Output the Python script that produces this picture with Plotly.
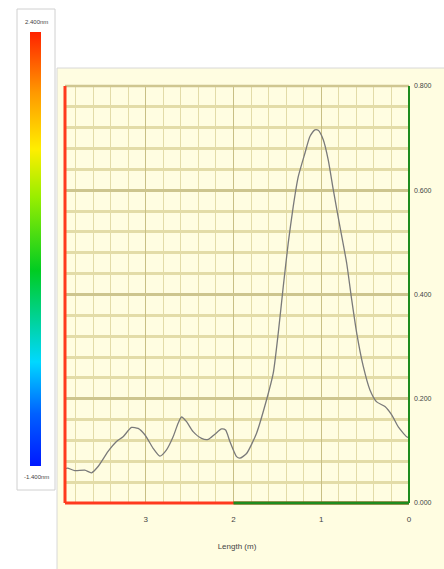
import plotly.graph_objects as go

# ---- data ----
length_m = [3.92, 3.892, 3.808, 3.694, 3.618, 3.543, 3.429, 3.333, 3.258, 3.162,
            3.087, 3.010, 2.916, 2.839, 2.763, 2.688, 2.631, 2.592, 2.535, 2.460,
            2.364, 2.289, 2.212, 2.136, 2.090, 2.041, 1.965, 1.927, 1.851, 1.737,
            1.623, 1.547, 1.490, 1.433, 1.376, 1.319, 1.262, 1.186, 1.129, 1.072,
            1.034, 0.977, 0.920, 0.863, 0.787, 0.710, 0.653, 0.596, 0.521, 0.445,
            0.368, 0.274, 0.197, 0.122, 0.026, 0.0]
values = [0.066, 0.067, 0.062, 0.063, 0.058, 0.070, 0.099, 0.118, 0.127, 0.145,
          0.143, 0.131, 0.105, 0.090, 0.102, 0.127, 0.153, 0.165, 0.156, 0.137,
          0.124, 0.122, 0.132, 0.142, 0.140, 0.118, 0.089, 0.086, 0.095, 0.134,
          0.198, 0.249, 0.326, 0.415, 0.499, 0.569, 0.626, 0.671, 0.703, 0.716,
          0.715, 0.697, 0.658, 0.601, 0.530, 0.460, 0.390, 0.326, 0.262, 0.217,
          0.194, 0.185, 0.169, 0.146, 0.127, 0.125]
x_ticks = [0, 1, 2, 3]
x_ticklabels = ["0", "1", "2", "3"]
y_ticks = [0.0, 0.2, 0.4, 0.6, 0.8]
y_ticklabels = ["0.000", "0.200", "0.400", "0.600", "0.800"]
x_split = 2
colorbar_labels = ["2.400nm", "-1.400nm"]

W, H = 444, 569
L, R, T, B = 65, 35, 86, 66
PW, PH = W - L - R, H - T - B


def px(x):
    return (x - L) / PW


def py(y):
    return (H - B - y) / PH


BG = "#FFFDE1"
fig = go.Figure()

fig.add_trace(go.Scatter(
    x=length_m, y=values, mode="lines",
    line=dict(color="#7a7a7a", width=1.3, shape="spline", smoothing=0.6),
    showlegend=False, hoverinfo="skip",
))

# colorbar (dummy marker trace)
fig.add_trace(go.Scatter(
    x=[None], y=[None], mode="markers", showlegend=False,
    marker=dict(
        color=[0], cmin=0, cmax=1, showscale=True,
        colorscale=[[0, "#0018FF"], [0.12, "#0060FF"], [0.24, "#00D8FF"],
                    [0.45, "#00CC22"], [0.62, "#99EE00"], [0.73, "#FFEE00"],
                    [0.86, "#FF9900"], [1.0, "#FF2200"]],
        colorbar=dict(
            x=px(30), xanchor="left", xref="paper",
            y=py((32 + 466) / 2), yanchor="middle", yref="paper",
            thickness=11, thicknessmode="pixels",
            len=434, lenmode="pixels",
            outlinewidth=0, xpad=0, ypad=0,
            showticklabels=False, ticks="",
        ),
    ),
))

shapes = [
    # yellow panel
    dict(type="rect", xref="paper", yref="paper", x0=px(57), x1=px(446),
         y0=py(571), y1=py(68), fillcolor=BG, line=dict(color="#d8d8d8", width=1),
         layer="below"),
    # colorbar panel
    dict(type="rect", xref="paper", yref="paper", x0=px(17), x1=px(55),
         y0=py(490), y1=py(9), fillcolor="white", line=dict(color="#d0d0d0", width=1),
         layer="below"),
    # top grid edge
    dict(type="line", xref="paper", yref="paper", x0=0, x1=1, y0=1, y1=1,
         line=dict(color="#CFC690", width=2.5)),
    # left border (red)
    dict(type="line", xref="paper", yref="paper", x0=0, x1=0, y0=0, y1=1,
         line=dict(color="#FF3A1E", width=3)),
    # bottom border red part
    dict(type="line", xref="paper", yref="paper", x0=0, x1=1, y0=0, y1=0,
         line=dict(color="#FF3A1E", width=3)),
    # bottom border green part
    dict(type="line", xref="x", yref="paper", x0=x_split, x1=0, y0=0, y1=0,
         line=dict(color="#1E8C1E", width=3)),
    # right border (green)
    dict(type="line", xref="paper", yref="paper", x0=1, x1=1, y0=0, y1=1,
         line=dict(color="#1E8C1E", width=2)),
]

annotations = [
    dict(text=colorbar_labels[0], xref="paper", yref="paper", x=px(36), y=py(22),
         xanchor="center", yanchor="middle",
         showarrow=False, font=dict(size=6, color="#444444", family="Arial")),
    dict(text=colorbar_labels[1], xref="paper", yref="paper", x=px(36), y=py(477),
         xanchor="center", yanchor="middle",
         showarrow=False, font=dict(size=6, color="#444444", family="Arial")),
]

fig.update_layout(
    width=W, height=H,
    margin=dict(l=L, r=R, t=T, b=B),
    paper_bgcolor="white", plot_bgcolor="rgba(0,0,0,0)",
    shapes=shapes, annotations=annotations,
    font=dict(family="Arial", size=8, color="#333333"),
    xaxis=dict(
        range=[3.92, 0], tickvals=x_ticks, ticktext=x_ticklabels,
        showgrid=True, gridcolor="#C8BF85", gridwidth=1.4,
        minor=dict(dtick=0.2, tick0=0, showgrid=True, gridcolor="#E2DBA8", gridwidth=1.4),
        zeroline=False, showline=False, ticks="", ticklabelstandoff=10,
        tickfont=dict(size=8, color="#444444"),
        title=dict(text="Length (m)", font=dict(size=8, color="#444444"), standoff=20),
    ),
    yaxis=dict(
        range=[0, 0.8], side="right", tickvals=y_ticks, ticktext=y_ticklabels,
        showgrid=True, gridcolor="#CDC58E", gridwidth=2.5,
        minor=dict(dtick=0.04, tick0=0, showgrid=True, gridcolor="#E3DCA8", gridwidth=2.5),
        zeroline=False, showline=False, ticks="", ticklabelstandoff=4,
        tickfont=dict(size=7, color="#444444"),
    ),
)

fig.write_html("out.html")
